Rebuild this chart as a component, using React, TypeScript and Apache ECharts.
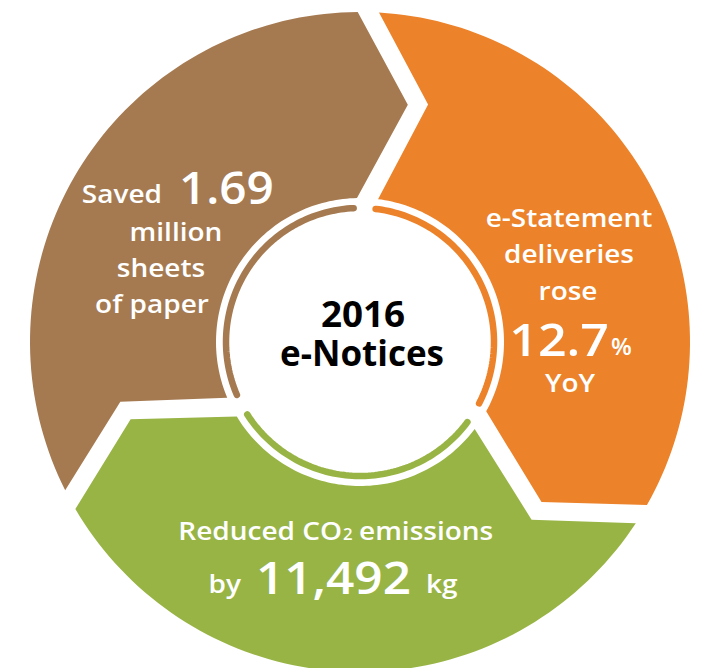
import React, { useEffect, useRef } from "react";
import * as echarts from "echarts";

// ---- data ----
const segmentNames = ["e-Statement deliveries", "Reduced CO2 emissions", "Paper saved"];
const segmentShares = [1, 1, 1]; // clockwise from 12 o'clock
const segmentColors = ["#EC8229", "#98B445", "#A57A51"];

const centerLines = ["2016", "e-Notices"];
const paperText = ["Saved", "1.69", "million", "sheets", "of paper"];
const statementText = ["e-Statement", "deliveries", "rose", "12.7", "%", "YoY"];
const co2Text = ["Reduced CO", "2", "emissions", "by", "11,492", "kg"];

// ---- geometry (layout only) ----
const R_OUT = 330;
const R_IN = 144;
const R_RING = 134;
// chevron edge points (radius, angle offset in degrees from the boundary)
const LEAD = [[330, -0.4], [242, 11.4], [144, -1.2]];
const TRAIL = [[330, 3.3], [247, 16.0], [144, 7.2]];
const RING_SHIFT = 2;
const RING_HALF_GAP = 4.7;

const FONT = "'Open Sans', 'Noto Sans', sans-serif";
const WHITE = "#FFFFFF";

function txt(
  text: string,
  x: number,
  baseline: number,
  size: number,
  align: string,
  sx = 1.12,
  weight: any = 600,
  fill = WHITE
) {
  return {
    type: "text",
    x,
    y: baseline - 0.37 * size,
    scaleX: sx,
    z: 100,
    zlevel: 0,
    silent: true,
    style: {
      text,
      x: 0,
      y: 0,
      fill,
      fontSize: size,
      fontFamily: FONT,
      fontWeight: weight,
      align,
      textAlign: align,
      verticalAlign: "middle",
      textVerticalAlign: "middle",
    },
  };
}

export default function App() {
  const ref = useRef<HTMLDivElement>(null);
  useEffect(() => {
    if (!ref.current) return;
    const chart = echarts.init(ref.current, undefined, { renderer: "svg" });
    const total = segmentShares.reduce((a, b) => a + b, 0);
    const cum: number[] = [0];
    segmentShares.forEach((s, i) => cum.push(cum[i] + s));

    const renderItem = (params: any, api: any) => {
      const i = params.dataIndex;
      const start = (cum[i] / total) * 360;
      const end = (cum[i + 1] / total) * 360;
      const pts: number[][] = [];
      pts.push(api.coord([TRAIL[2][0], start + TRAIL[2][1]]));
      pts.push(api.coord([TRAIL[1][0], start + TRAIL[1][1]]));
      const a0 = start + TRAIL[0][1];
      const a1 = end + LEAD[0][1];
      const N = 80;
      for (let k = 0; k <= N; k++) pts.push(api.coord([R_OUT, a0 + ((a1 - a0) * k) / N]));
      pts.push(api.coord([LEAD[1][0], end + LEAD[1][1]]));
      const b0 = end + LEAD[2][1];
      const b1 = start + TRAIL[2][1];
      for (let k = 0; k <= N; k++) pts.push(api.coord([R_IN, b0 + ((b1 - b0) * k) / N]));

      const r0 = start + RING_SHIFT + RING_HALF_GAP;
      const r1 = end + RING_SHIFT - RING_HALF_GAP;
      const ring: number[][] = [];
      for (let k = 0; k <= N; k++) ring.push(api.coord([R_RING, r0 + ((r1 - r0) * k) / N]));

      return {
        type: "group",
        children: [
          { type: "polygon", shape: { points: pts }, style: { fill: segmentColors[i] } },
          {
            type: "polyline",
            shape: { points: ring },
            style: { stroke: segmentColors[i], lineWidth: 6.5, fill: null, lineCap: "round" },
          },
        ],
      };
    };

    const graphics = [
      // centre
      txt(centerLines[0], 363, 327, 35, "center", 1.05, 700, "#000000"),
      txt(centerLines[1], 362, 365, 35, "center", 1.0, 700, "#000000"),
      // paper (brown)
      txt(paperText[0], 162, 203, 25, "right"),
      txt(paperText[1], 179, 203, 45, "left", 1.06),
      txt(paperText[2], 176, 241, 25, "center"),
      txt(paperText[3], 161, 277, 25, "center"),
      txt(paperText[4], 152, 313, 25, "center"),
      // statement (orange)
      txt(statementText[0], 569, 227, 25, "center"),
      txt(statementText[1], 569, 263, 25, "center"),
      txt(statementText[2], 568, 300, 25, "center"),
      txt(statementText[3], 609, 355, 46, "right", 1.09),
      txt(statementText[4], 611, 355, 23, "left", 1.05),
      txt(statementText[5], 570, 392, 25, "center"),
      // co2 (green)
      txt(co2Text[0], 342, 540, 25, "right"),
      txt(co2Text[1], 343, 540, 16, "left", 1.05),
      txt(co2Text[2], 359, 540, 25, "left"),
      txt(co2Text[3], 241, 593, 25, "right"),
      txt(co2Text[4], 256, 593, 45, "left", 1.1),
      txt(co2Text[5], 426, 593, 25, "left"),
    ];

    chart.setOption({
      animation: false,
      backgroundColor: "#FFFFFF",
      polar: { center: [360, 342], radius: [0, R_OUT] },
      angleAxis: { type: "value", min: 0, max: 360, startAngle: 90, clockwise: true, show: false },
      radiusAxis: { type: "value", min: 0, max: R_OUT, show: false },
      series: [
        {
          type: "custom",
          name: "e-Notices",
          coordinateSystem: "polar",
          silent: true,
          z: 1,
          renderItem,
          data: segmentShares.map((s, i) => ({ name: segmentNames[i], value: [s, i] })),
        },
      ],
      graphic: { elements: graphics },
    });
    return () => chart.dispose();
  }, []);
  return (
    <div
      ref={ref}
      style={{ position: "fixed", left: 0, top: 0, width: 703, height: 668 }}
    />
  );
}
